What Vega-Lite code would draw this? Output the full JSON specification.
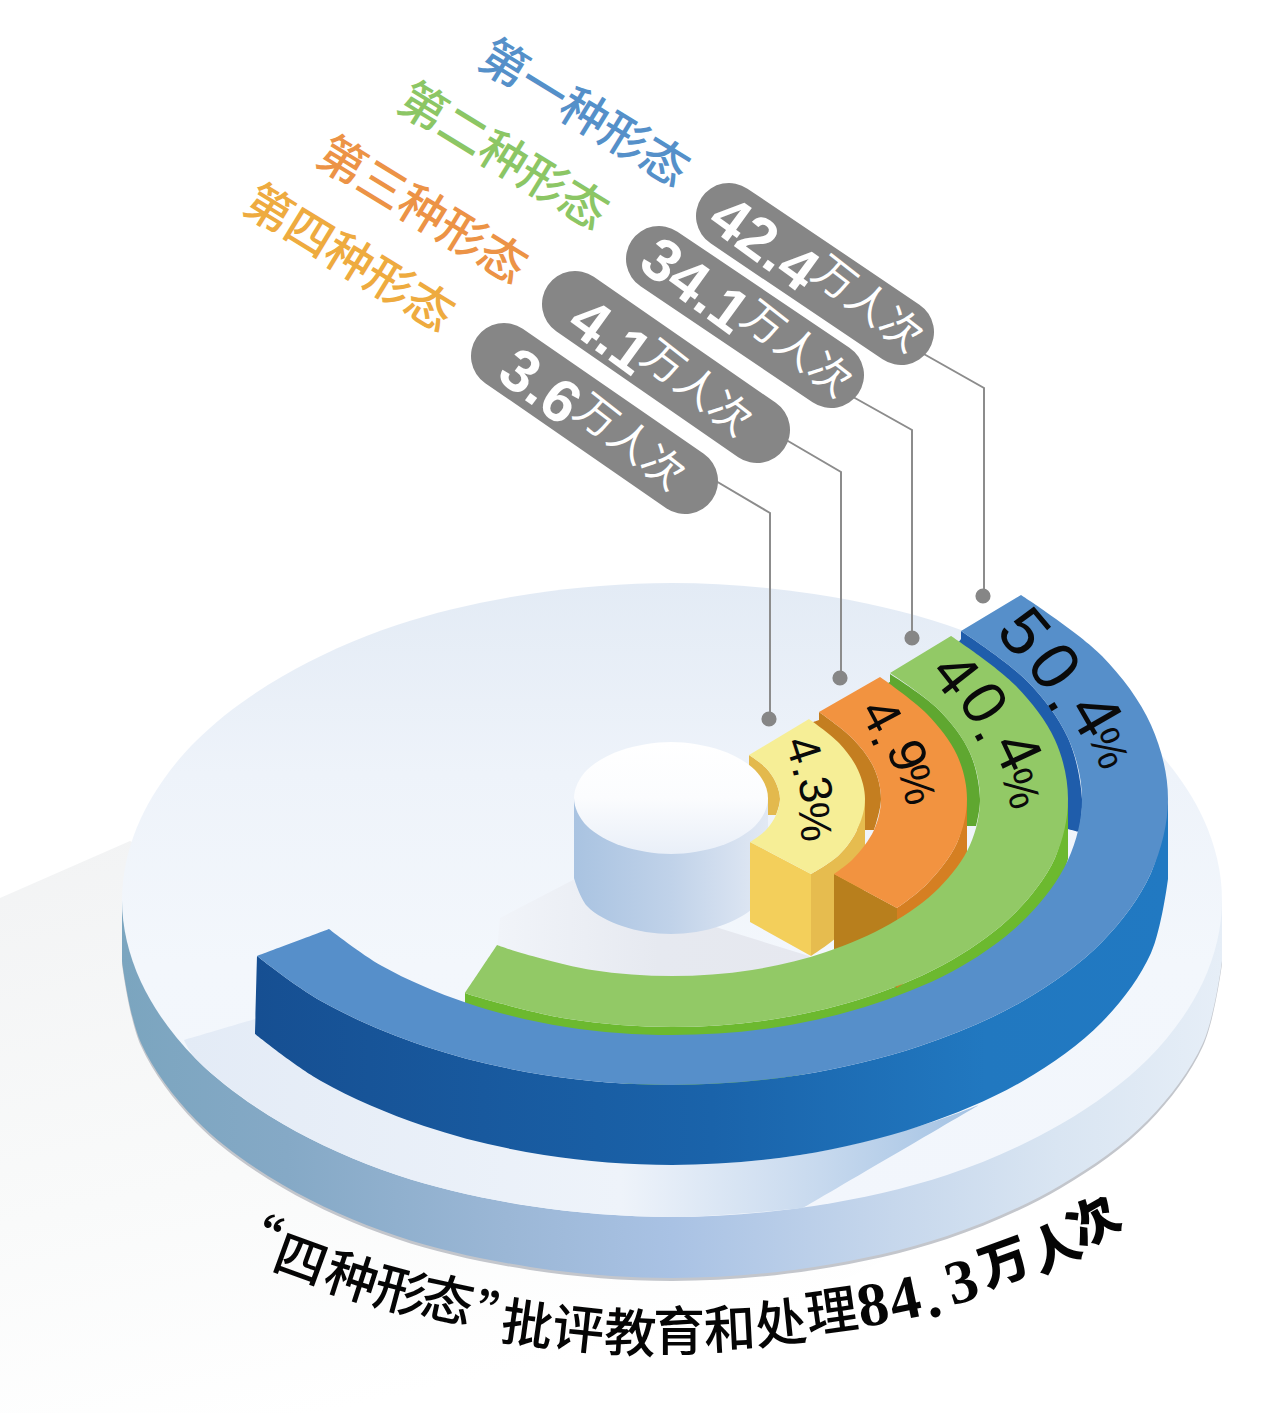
{
  "$schema": "https://vega.github.io/schema/vega-lite/v5.json",
  "width": 1280,
  "height": 1413,
  "padding": 0,
  "autosize": {"type": "none"},
  "background": "white",
  "config": {"view": {"stroke": null}},
  "encoding": {
    "x": {"field": "x", "type": "quantitative", "scale": {"domain": [0, 1280], "nice": false, "zero": false}, "axis": null},
    "y": {"field": "y", "type": "quantitative", "scale": {"domain": [1413, 0], "nice": false, "zero": false}, "axis": null}
  },
  "layer": [
    {
      "data": {"values": [{"x":0,"y":898},{"x":130,"y":841},{"x":925,"y":1240},{"x":573,"y":1413},{"x":0,"y":1413}]},
      "mark": {"type": "line", "strokeWidth": 0, "fill": {"x1":0,"y1":0,"x2":0.35,"y2":1,"gradient":"linear","stops":[{"offset":0,"color":"#f2f3f4"},{"offset":0.6,"color":"#f9fafa"},{"offset":1,"color":"#ffffff"}]}},
      "encoding": {"order": {"value": null}}
    },
    {
      "data": {"values": [{"x":122,"y":900},{"x":122,"y":900},{"x":122,"y":964},{"x":122,"y":964},{"x":141,"y":1046},{"x":196,"y":1123},{"x":283,"y":1188},{"x":397,"y":1239},{"x":530,"y":1270},{"x":672,"y":1281},{"x":814,"y":1270},{"x":947,"y":1239},{"x":1061,"y":1188},{"x":1148,"y":1123},{"x":1203,"y":1046},{"x":1222,"y":964},{"x":1222,"y":964},{"x":1222,"y":900}]},
      "mark": {"type": "line", "interpolate": "catmull-rom", "strokeWidth": 0, "fill": "#c3c6cc"},
      "encoding": {"order": {"value": null}}
    },
    {
      "data": {"values": [{"x":122,"y":900},{"x":122,"y":900},{"x":122,"y":961},{"x":122,"y":961},{"x":141,"y":1043},{"x":196,"y":1120},{"x":283,"y":1185},{"x":397,"y":1236},{"x":530,"y":1267},{"x":672,"y":1278},{"x":814,"y":1267},{"x":947,"y":1236},{"x":1061,"y":1185},{"x":1148,"y":1120},{"x":1203,"y":1043},{"x":1222,"y":961},{"x":1222,"y":961},{"x":1222,"y":900}]},
      "mark": {"type": "line", "interpolate": "catmull-rom", "strokeWidth": 0, "fill": {"x1":0,"y1":0,"x2":1,"y2":0,"gradient":"linear","stops":[{"offset":0,"color":"#7ba5bf"},{"offset":0.15,"color":"#85a9c6"},{"offset":0.35,"color":"#9bb7d6"},{"offset":0.5,"color":"#a9c2e4"},{"offset":0.7,"color":"#c6d7ec"},{"offset":0.85,"color":"#d9e5f2"},{"offset":1,"color":"#e6eef7"}]}},
      "encoding": {"order": {"value": null}}
    },
    {
      "data": {"values": [{"x":1222,"y":900},{"x":1203,"y":982},{"x":1148,"y":1059},{"x":1061,"y":1124},{"x":947,"y":1175},{"x":814,"y":1206},{"x":672,"y":1217},{"x":530,"y":1206},{"x":397,"y":1175},{"x":283,"y":1124},{"x":196,"y":1059},{"x":141,"y":982},{"x":122,"y":900},{"x":141,"y":818},{"x":196,"y":741},{"x":283,"y":676},{"x":397,"y":625},{"x":530,"y":594},{"x":672,"y":583},{"x":814,"y":594},{"x":947,"y":625},{"x":1061,"y":676},{"x":1148,"y":741},{"x":1203,"y":818}]},
      "mark": {"type": "line", "interpolate": "cardinal-closed", "strokeWidth": 0, "fill": {"x1":0,"y1":0,"x2":0,"y2":1,"gradient":"linear","stops":[{"offset":0,"color":"#e3ebf5"},{"offset":0.3,"color":"#eef3fa"},{"offset":0.6,"color":"#f3f7fc"},{"offset":1,"color":"#f2f6fc"}]}},
      "encoding": {"order": {"value": null}}
    },
    {
      "data": {"values": [{"x":184,"y":1040},{"x":184,"y":1040},{"x":255,"y":1019},{"x":255,"y":1019},{"x":256,"y":1035},{"x":256,"y":1035},{"x":321,"y":1081},{"x":424,"y":1126},{"x":544,"y":1155},{"x":672,"y":1165},{"x":800,"y":1155},{"x":920,"y":1126},{"x":979,"y":1105},{"x":979,"y":1105},{"x":803,"y":1208},{"x":803,"y":1208},{"x":672,"y":1217},{"x":530,"y":1206},{"x":397,"y":1175},{"x":283,"y":1124},{"x":196,"y":1059},{"x":184,"y":1040}]},
      "mark": {"type": "line", "interpolate": "catmull-rom", "strokeWidth": 0, "fill": {"x1":0,"y1":0,"x2":1,"y2":0,"gradient":"linear","stops":[{"offset":0,"color":"#e3ebf6"},{"offset":0.55,"color":"#eef3fa"},{"offset":0.8,"color":"#c7d9ee"},{"offset":1,"color":"#a3c2e3"}]}},
      "encoding": {"order": {"value": null}}
    },
    {
      "data": {"values": [{"x":573,"y":880},{"x":500,"y":918},{"x":497,"y":950},{"x":600,"y":1000},{"x":820,"y":975},{"x":809,"y":956},{"x":722,"y":929}]},
      "mark": {"type": "line", "strokeWidth": 0, "fill": {"x1":0,"y1":0,"x2":1,"y2":0,"gradient":"linear","stops":[{"offset":0,"color":"#f1f4f9"},{"offset":0.5,"color":"#e6e9f0"},{"offset":1,"color":"#e6e8ef"}]}},
      "encoding": {"order": {"value": null}}
    },
    {
      "data": {"values": [{"x":961,"y":631},{"x":961,"y":631},{"x":1027,"y":681},{"x":1068,"y":738},{"x":1082,"y":799},{"x":1079,"y":832},{"x":1079,"y":832},{"x":1064,"y":828},{"x":1064,"y":828},{"x":945,"y":660},{"x":945,"y":660},{"x":961,"y":639},{"x":961,"y":639}]},
      "mark": {"type": "line", "interpolate": "catmull-rom", "strokeWidth": 0, "fill": "#1f5dab"},
      "encoding": {"order": {"value": null}}
    },
    {
      "data": {"values": [{"x":1068,"y":799},{"x":1055,"y":858},{"x":1015,"y":913},{"x":952,"y":960},{"x":870,"y":996},{"x":775,"y":1019},{"x":672,"y":1027},{"x":569,"y":1019},{"x":474,"y":996},{"x":465,"y":993},{"x":465,"y":993},{"x":465,"y":1053},{"x":465,"y":1053},{"x":672,"y":1087},{"x":870,"y":1056},{"x":1015,"y":973},{"x":1068,"y":859},{"x":1068,"y":859}]},
      "mark": {"type": "line", "interpolate": "catmull-rom", "strokeWidth": 0, "fill": "#6cb92f"},
      "encoding": {"order": {"value": null}}
    },
    {
      "data": {"values": [{"x":890,"y":674},{"x":890,"y":674},{"x":939,"y":710},{"x":970,"y":753},{"x":980,"y":799},{"x":976,"y":826},{"x":976,"y":826},{"x":958,"y":826},{"x":958,"y":826},{"x":875,"y":690},{"x":875,"y":690},{"x":890,"y":682},{"x":890,"y":682}]},
      "mark": {"type": "line", "interpolate": "catmull-rom", "strokeWidth": 0, "fill": "#5fa730"},
      "encoding": {"order": {"value": null}}
    },
    {
      "data": {"values": [{"x":819,"y":712},{"x":819,"y":712},{"x":853,"y":739},{"x":874,"y":768},{"x":881,"y":799},{"x":874,"y":830},{"x":874,"y":830},{"x":850,"y":830},{"x":850,"y":830},{"x":805,"y":725},{"x":805,"y":725},{"x":819,"y":720},{"x":819,"y":720}]},
      "mark": {"type": "line", "interpolate": "catmull-rom", "strokeWidth": 0, "fill": "#c47e20"},
      "encoding": {"order": {"value": null}}
    },
    {
      "data": {"values": [{"x":967,"y":799},{"x":957,"y":843},{"x":927,"y":884},{"x":897,"y":908},{"x":897,"y":908},{"x":897,"y":988},{"x":897,"y":988},{"x":927,"y":964},{"x":957,"y":923},{"x":967,"y":879},{"x":967,"y":879}]},
      "mark": {"type": "line", "interpolate": "catmull-rom", "strokeWidth": 0, "fill": "#d57f22"},
      "encoding": {"order": {"value": null}}
    },
    {
      "data": {"values": [{"x":749,"y":755},{"x":749,"y":755},{"x":766,"y":768},{"x":776,"y":783},{"x":780,"y":799},{"x":776,"y":815},{"x":776,"y":815},{"x":760,"y":815},{"x":760,"y":815},{"x":749,"y":770},{"x":749,"y":770}]},
      "mark": {"type": "line", "interpolate": "catmull-rom", "strokeWidth": 0, "fill": "#e3b94d"},
      "encoding": {"order": {"value": null}}
    },
    {
      "data": {"values": [{"x":574,"y":798},{"x":574,"y":798},{"x":574,"y":878},{"x":574,"y":878},{"x":587,"y":906},{"x":622,"y":926},{"x":671,"y":934},{"x":720,"y":926},{"x":755,"y":906},{"x":768,"y":878},{"x":768,"y":878},{"x":768,"y":798}]},
      "mark": {"type": "line", "interpolate": "catmull-rom", "strokeWidth": 0, "fill": {"x1":0,"y1":0,"x2":1,"y2":0,"gradient":"linear","stops":[{"offset":0,"color":"#a9c3e1"},{"offset":0.5,"color":"#c0d2e9"},{"offset":1,"color":"#e2e9f4"}]}},
      "encoding": {"order": {"value": null}}
    },
    {
      "data": {"values": [{"x":768,"y":798},{"x":755,"y":826},{"x":720,"y":846},{"x":671,"y":854},{"x":622,"y":846},{"x":587,"y":826},{"x":574,"y":798},{"x":587,"y":770},{"x":622,"y":750},{"x":671,"y":742},{"x":720,"y":750},{"x":755,"y":770}]},
      "mark": {"type": "line", "interpolate": "cardinal-closed", "strokeWidth": 0, "fill": {"x1":0,"y1":0,"x2":0,"y2":1,"gradient":"linear","stops":[{"offset":0,"color":"#ffffff"},{"offset":0.5,"color":"#fbfcfe"},{"offset":1,"color":"#e9eff8"}]}},
      "encoding": {"order": {"value": null}}
    },
    {
      "data": {"values": [{"x":865,"y":799},{"x":858,"y":828},{"x":839,"y":855},{"x":811,"y":874},{"x":811,"y":874},{"x":811,"y":956},{"x":811,"y":956},{"x":839,"y":935},{"x":858,"y":908},{"x":865,"y":879},{"x":865,"y":879}]},
      "mark": {"type": "line", "interpolate": "catmull-rom", "strokeWidth": 0, "fill": "#e6bc4f"},
      "encoding": {"order": {"value": null}}
    },
    {
      "data": {"values": [{"x":750,"y":842},{"x":811,"y":874},{"x":811,"y":956},{"x":750,"y":922}]},
      "mark": {"type": "line", "strokeWidth": 0, "fill": "#f3cf5b"},
      "encoding": {"order": {"value": null}}
    },
    {
      "data": {"values": [{"x":834,"y":874},{"x":897,"y":908},{"x":897,"y":988},{"x":834,"y":954}]},
      "mark": {"type": "line", "strokeWidth": 0, "fill": "#b87f1d"},
      "encoding": {"order": {"value": null}}
    },
    {
      "data": {"values": [{"x":809,"y":719},{"x":839,"y":743},{"x":858,"y":770},{"x":865,"y":799},{"x":858,"y":828},{"x":839,"y":855},{"x":811,"y":874},{"x":811,"y":874},{"x":750,"y":842},{"x":750,"y":842},{"x":766,"y":830},{"x":776,"y":815},{"x":780,"y":799},{"x":776,"y":783},{"x":766,"y":768},{"x":749,"y":755}]},
      "mark": {"type": "line", "interpolate": "catmull-rom", "strokeWidth": 0, "fill": "#f6ee96"},
      "encoding": {"order": {"value": null}}
    },
    {
      "data": {"values": [{"x":880,"y":677},{"x":927,"y":714},{"x":957,"y":755},{"x":967,"y":799},{"x":957,"y":843},{"x":927,"y":884},{"x":897,"y":908},{"x":897,"y":908},{"x":834,"y":874},{"x":834,"y":874},{"x":853,"y":859},{"x":874,"y":830},{"x":881,"y":799},{"x":874,"y":768},{"x":853,"y":739},{"x":819,"y":712}]},
      "mark": {"type": "line", "interpolate": "catmull-rom", "strokeWidth": 0, "fill": "#f29340"},
      "encoding": {"order": {"value": null}}
    },
    {
      "data": {"values": [{"x":951,"y":636},{"x":1015,"y":685},{"x":1055,"y":740},{"x":1068,"y":799},{"x":1055,"y":858},{"x":1015,"y":913},{"x":952,"y":960},{"x":870,"y":996},{"x":775,"y":1019},{"x":672,"y":1027},{"x":569,"y":1019},{"x":474,"y":996},{"x":465,"y":993},{"x":465,"y":993},{"x":497,"y":945},{"x":497,"y":945},{"x":518,"y":952},{"x":592,"y":970},{"x":672,"y":976},{"x":752,"y":970},{"x":826,"y":952},{"x":890,"y":924},{"x":939,"y":888},{"x":970,"y":845},{"x":980,"y":799},{"x":970,"y":753},{"x":939,"y":710},{"x":890,"y":673}]},
      "mark": {"type": "line", "interpolate": "catmull-rom", "strokeWidth": 0, "fill": "#92c966"},
      "encoding": {"order": {"value": null}}
    },
    {
      "data": {"values": [{"x":1168,"y":799},{"x":1151,"y":873},{"x":1102,"y":942},{"x":1023,"y":1001},{"x":920,"y":1046},{"x":800,"y":1075},{"x":672,"y":1085},{"x":544,"y":1075},{"x":424,"y":1046},{"x":321,"y":1001},{"x":257,"y":956},{"x":257,"y":956},{"x":255,"y":1034},{"x":255,"y":1034},{"x":321,"y":1081},{"x":424,"y":1126},{"x":544,"y":1155},{"x":672,"y":1165},{"x":800,"y":1155},{"x":920,"y":1126},{"x":1023,"y":1081},{"x":1102,"y":1022},{"x":1151,"y":953},{"x":1168,"y":879},{"x":1168,"y":879}]},
      "mark": {"type": "line", "interpolate": "catmull-rom", "strokeWidth": 0, "fill": {"x1":0,"y1":0,"x2":1,"y2":0,"gradient":"linear","stops":[{"offset":0,"color":"#164f92"},{"offset":0.5,"color":"#1a63aa"},{"offset":0.8,"color":"#2178c0"},{"offset":1,"color":"#2179c2"}]}},
      "encoding": {"order": {"value": null}}
    },
    {
      "data": {"values": [{"x":1021,"y":595},{"x":1102,"y":656},{"x":1151,"y":725},{"x":1168,"y":799},{"x":1151,"y":873},{"x":1102,"y":942},{"x":1023,"y":1001},{"x":920,"y":1046},{"x":800,"y":1075},{"x":672,"y":1085},{"x":544,"y":1075},{"x":424,"y":1046},{"x":321,"y":1001},{"x":257,"y":956},{"x":257,"y":956},{"x":329,"y":929},{"x":329,"y":929},{"x":382,"y":966},{"x":467,"y":1003},{"x":566,"y":1027},{"x":672,"y":1035},{"x":778,"y":1027},{"x":877,"y":1003},{"x":962,"y":966},{"x":1027,"y":917},{"x":1068,"y":860},{"x":1082,"y":799},{"x":1068,"y":738},{"x":1027,"y":681},{"x":961,"y":631}]},
      "mark": {"type": "line", "interpolate": "catmull-rom", "strokeWidth": 0, "fill": "#568fca"},
      "encoding": {"order": {"value": null}}
    },
    {
      "data": {"values": [
        {"form":"第一种形态","x":915,"y":349},{"form":"第一种形态","x":984,"y":388},{"form":"第一种形态","x":984,"y":597},
        {"form":"第二种形态","x":846,"y":393},{"form":"第二种形态","x":912,"y":430},{"form":"第二种形态","x":912,"y":638},
        {"form":"第三种形态","x":776,"y":434},{"form":"第三种形态","x":841,"y":472},{"form":"第三种形态","x":841,"y":678},
        {"form":"第四种形态","x":704,"y":474},{"form":"第四种形态","x":770,"y":513},{"form":"第四种形态","x":770,"y":719}
      ]},
      "mark": {"type": "line", "stroke": "#8c8c8c", "strokeWidth": 2},
      "encoding": {"detail": {"field": "form"}, "order": {"value": null}}
    },
    {
      "data": {"values": [{"x":983,"y":596},{"x":912,"y":638},{"x":840,"y":678},{"x":769,"y":719}]},
      "mark": {"type": "circle", "size": 230, "opacity": 1, "color": "#868686"}
    },
    {
      "data": {"values": [
        {"form":"第一种形态","x":729,"y":216},{"form":"第一种形态","x":901,"y":332},
        {"form":"第二种形态","x":659,"y":259},{"form":"第二种形态","x":831,"y":375},
        {"form":"第三种形态","x":575,"y":304},{"form":"第三种形态","x":757,"y":430},
        {"form":"第四种形态","x":504,"y":356},{"form":"第四种形态","x":685,"y":481}
      ]},
      "mark": {"type": "line", "stroke": "#868686", "strokeWidth": 66, "strokeCap": "round"},
      "encoding": {"detail": {"field": "form"}, "order": {"value": null}}
    },
    {
      "data": {"values": [
        {"label":"42.4","x":763,"y":245,"tilt":36},
        {"label":"34.1","x":694,"y":287,"tilt":36},
        {"label":"4.1","x":609,"y":338,"tilt":36},
        {"label":"3.6","x":539,"y":388,"tilt":36}
      ]},
      "mark": {"type": "text", "font": "Liberation Sans", "fontWeight": "bold", "fontSize": 60, "color": "white", "align": "center", "baseline": "middle"},
      "encoding": {"text": {"field": "label"}, "angle": {"field": "tilt", "type": "quantitative", "scale": null}}
    },
    {
      "data": {"values": [
        {"label":"万人次","x":867,"y":305,"tilt":38},
        {"label":"万人次","x":796,"y":350,"tilt":38},
        {"label":"万人次","x":696,"y":389,"tilt":38},
        {"label":"万人次","x":629,"y":443,"tilt":38}
      ]},
      "mark": {"type": "text", "font": "Noto Sans CJK SC", "fontSize": 42, "color": "white", "align": "center", "baseline": "middle"},
      "encoding": {"text": {"field": "label"}, "angle": {"field": "tilt", "type": "quantitative", "scale": null}}
    },
    {
      "data": {"values": [
        {"label":"第一种形态","x":583,"y":115,"shade":"第一种形态"},
        {"label":"第二种形态","x":502,"y":158,"shade":"第二种形态"},
        {"label":"第三种形态","x":421,"y":212,"shade":"第三种形态"},
        {"label":"第四种形态","x":348,"y":260,"shade":"第四种形态"}
      ]},
      "mark": {"type": "text", "font": "Noto Sans CJK SC", "fontWeight": 500, "fontSize": 47, "angle": 31.5, "align": "center", "baseline": "middle"},
      "encoding": {
        "text": {"field": "label"},
        "color": {"field": "shade", "type": "nominal", "legend": null, "scale": {"domain": ["第一种形态","第二种形态","第三种形态","第四种形态"], "range": ["#5590c9","#8cc665","#ec9346","#eeab3f"]}}
      }
    },
    {
      "data": {"values": [
        {"label":"5","x":1022,"y":634,"tilt":50},{"label":"0","x":1052,"y":668,"tilt":55},{"label":".","x":1067,"y":698,"tilt":58},{"label":"4","x":1093,"y":716,"tilt":60}
      ]},
      "mark": {"type": "text", "font": "Liberation Sans", "fontSize": 68, "color": "#0a0a0a", "align": "center", "baseline": "middle"},
      "encoding": {"text": {"field": "label"}, "angle": {"field": "tilt", "type": "quantitative", "scale": null}}
    },
    {
      "data": {"values": [
        {"label":"4","x":954,"y":675,"tilt":52},{"label":"0","x":982,"y":704,"tilt":58},{"label":".","x":993,"y":730,"tilt":62},{"label":"4","x":1016,"y":752,"tilt":65}
      ]},
      "mark": {"type": "text", "font": "Liberation Sans", "fontSize": 62, "color": "#0a0a0a", "align": "center", "baseline": "middle"},
      "encoding": {"text": {"field": "label"}, "angle": {"field": "tilt", "type": "quantitative", "scale": null}}
    },
    {
      "data": {"values": [
        {"label":"4","x":880,"y":716,"tilt":62},{"label":".","x":887,"y":737,"tilt":66},{"label":"9","x":906,"y":756,"tilt":70}
      ]},
      "mark": {"type": "text", "font": "Liberation Sans", "fontSize": 52, "color": "#0a0a0a", "align": "center", "baseline": "middle"},
      "encoding": {"text": {"field": "label"}, "angle": {"field": "tilt", "type": "quantitative", "scale": null}}
    },
    {
      "data": {"values": [
        {"label":"4","x":802,"y":750,"tilt":72},{"label":".","x":807,"y":770,"tilt":76},{"label":"3","x":814,"y":790,"tilt":80}
      ]},
      "mark": {"type": "text", "font": "Liberation Sans", "fontSize": 46, "color": "#0a0a0a", "align": "center", "baseline": "middle"},
      "encoding": {"text": {"field": "label"}, "angle": {"field": "tilt", "type": "quantitative", "scale": null}}
    },
    {
      "data": {"values": [
        {"label":"%","x":1107,"y":749,"tilt":68},{"label":"%","x":1019,"y":789,"tilt":72},{"label":"%","x":915,"y":785,"tilt":76},{"label":"%","x":813,"y":822,"tilt":84}
      ]},
      "mark": {"type": "text", "font": "Liberation Sans", "fontSize": 44, "color": "#0a0a0a", "align": "center", "baseline": "middle"},
      "encoding": {"text": {"field": "label"}, "angle": {"field": "tilt", "type": "quantitative", "scale": null}}
    },
    {
      "data": {"values": [
        {"label":"“","x":252,"y":1236,"tilt":22},{"label":"四","x":300,"y":1262,"tilt":20},{"label":"种","x":351,"y":1280,"tilt":18},{"label":"形","x":400,"y":1294,"tilt":15},{"label":"态","x":447,"y":1303,"tilt":12},{"label":"”","x":501,"y":1320,"tilt":10},{"label":"批","x":527,"y":1327,"tilt":8},{"label":"评","x":578,"y":1332,"tilt":6},{"label":"教","x":630,"y":1336,"tilt":3},{"label":"育","x":679,"y":1334,"tilt":0},{"label":"和","x":730,"y":1332,"tilt":-3},{"label":"处","x":781,"y":1326,"tilt":-6},{"label":"理","x":832,"y":1314,"tilt":-8}
      ]},
      "mark": {"type": "text", "font": "Noto Sans CJK SC", "fontWeight": 500, "fontSize": 52, "color": "#050505", "align": "center", "baseline": "middle"},
      "encoding": {"text": {"field": "label"}, "angle": {"field": "tilt", "type": "quantitative", "scale": null}}
    },
    {
      "data": {"values": [
        {"label":"8","x":873,"y":1306,"tilt":-10},{"label":"4","x":905,"y":1300,"tilt":-12},{"label":".","x":932,"y":1298,"tilt":-14},{"label":"3","x":962,"y":1283,"tilt":-16}
      ]},
      "mark": {"type": "text", "font": "Liberation Serif", "fontWeight": "bold", "fontSize": 62, "color": "#050505", "align": "center", "baseline": "middle"},
      "encoding": {"text": {"field": "label"}, "angle": {"field": "tilt", "type": "quantitative", "scale": null}}
    },
    {
      "data": {"values": [
        {"label":"万","x":1005,"y":1265,"tilt":-20},{"label":"人","x":1056,"y":1250,"tilt":-25},{"label":"次","x":1095,"y":1224,"tilt":-30}
      ]},
      "mark": {"type": "text", "font": "Noto Sans CJK SC", "fontWeight": 900, "fontSize": 50, "color": "#050505", "align": "center", "baseline": "middle"},
      "encoding": {"text": {"field": "label"}, "angle": {"field": "tilt", "type": "quantitative", "scale": null}}
    }
  ]
}
